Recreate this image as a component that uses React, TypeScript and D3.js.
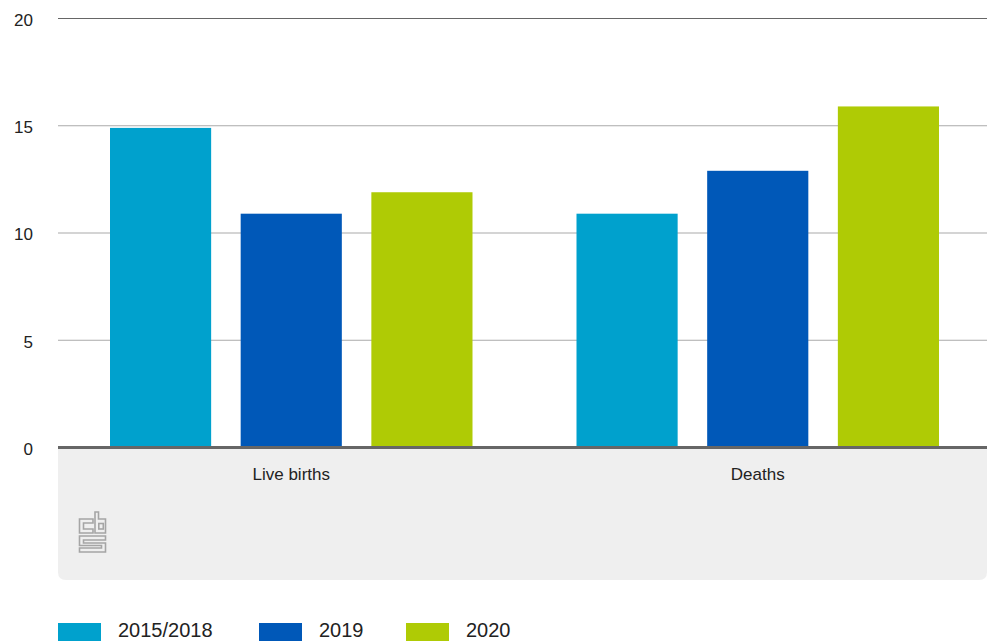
import React from "react";
import * as d3 from "d3";

const categories = ["Live births", "Deaths"];
const seriesNames = ["2015/2018", "2019", "2020"];
const values2015_2018 = [14.9, 10.9];
const values2019 = [10.9, 12.9];
const values2020 = [11.9, 15.9];
const yTicks = [0, 5, 10, 15, 20];
const colors = ["#00a1cd", "#0058b8", "#afcb05"];

const W = 987;
const H = 641;
const left = 58;
const right = 991;
const top = 18.5;
const bottom = 447.5;

export default function App() {
  const series = [values2015_2018, values2019, values2020];
  const y = d3.scaleLinear().domain([0, 20]).range([bottom, top]);
  const x0 = d3.scaleBand<string>().domain(categories).range([left, right]).padding(0);
  const x1 = d3
    .scaleBand<string>()
    .domain(seriesNames)
    .range([52, x0.bandwidth() - 52])
    .paddingInner(0.226)
    .paddingOuter(0);
  const font = "'Liberation Sans', Arial, sans-serif";
  const legendX = [58, 259, 406];

  return (
    <svg
      width={W}
      height={H}
      style={{ position: "absolute", left: 0, top: 0, display: "block" }}
      fontFamily={font}
    >
      <rect width={W} height={H} fill="#fff" />
      {/* gray panel */}
      <path
        d={`M${left},${bottom} H${W} V${580 - 8} Q${W},580 ${W - 8},580 H${left + 8} Q${left},580 ${left},${580 - 8} Z`}
        fill="#efefef"
      />
      {/* gridlines */}
      {yTicks.map((t) => (
        <g key={t}>
          {t > 0 && (
            <line
              x1={left}
              x2={W}
              y1={y(t)}
              y2={y(t)}
              stroke={t === 20 ? "#666" : "#aaa"}
              strokeWidth={1.2}
            />
          )}
          <text
            x={33}
            y={y(t) + 3}
            textAnchor="end"
            fontSize={17}
            fill="#222"
            dominantBaseline="middle"
          >
            {t}
          </text>
        </g>
      ))}
      {/* bars */}
      {categories.map((c, ci) => (
        <g key={c} transform={`translate(${x0(c)},0)`}>
          {seriesNames.map((s, si) => (
            <rect
              key={s}
              x={x1(s)}
              y={y(series[si][ci])}
              width={x1.bandwidth()}
              height={y(0) - y(series[si][ci])}
              fill={colors[si]}
            />
          ))}
          <text
            x={x0.bandwidth() / 2}
            y={480}
            textAnchor="middle"
            fontSize={17}
            fill="#222"
          >
            {c}
          </text>
        </g>
      ))}
      {/* axis line */}
      <line x1={left} x2={W} y1={bottom} y2={bottom} stroke="#666" strokeWidth={3} />
      {/* cbs logo */}
      <g fill="none" stroke="#a5a5a5" strokeWidth={1.6}>
        <path d="M93,519 H79.5 V533 H93 V529 H83.5 V523 H93 Z" />
        <path d="M95,512 H98.5 V519 H105.5 V533 H95 Z" />
        <rect x={98.8} y={523.5} width={4.5} height={5.5} />
        <path d="M79.5,536 H105.5 V540 H83.5 V543 H105.5 V552 H79.5 V548 H101.5 V545.5 H79.5 Z" />
      </g>
      {/* legend */}
      {seriesNames.map((s, i) => (
        <g key={s}>
          <rect x={legendX[i]} y={623} width={43} height={20} fill={colors[i]} />
          <text x={legendX[i] + 60} y={637} fontSize={20} fill="#222">
            {s}
          </text>
        </g>
      ))}
    </svg>
  );
}
